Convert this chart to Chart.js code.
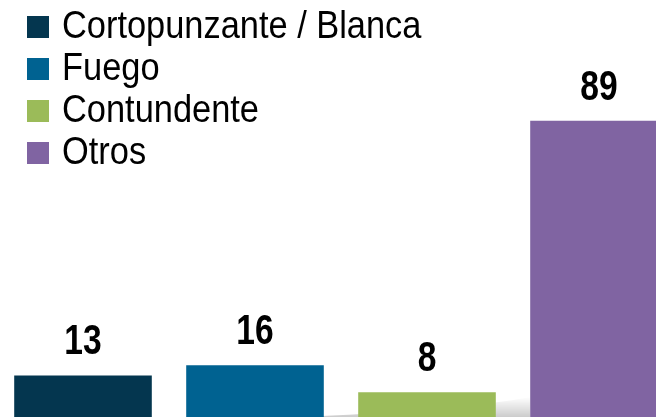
<!DOCTYPE html>
<html>
<head>
<meta charset="utf-8">
<script src="https://cdn.jsdelivr.net/npm/chart.js@4/dist/chart.umd.min.js"></script>
<style>
  html, body { margin: 0; padding: 0; background: #fff; overflow: hidden; }
  #wrap { position: absolute; left: -3px; top: 0; width: 688px; height: 419px; }
</style>
</head>
<body>
<div id="wrap"><canvas id="myChart"></canvas></div>
<script>
// Tipo de arma
const categories = ["Cortopunzante / Blanca", "Fuego", "Contundente", "Otros"];
const values = [13, 16, 8, 89];
const barColors = [
  "#04364f", // Cortopunzante / Blanca
  "#006291", // Fuego
  "#9bbb59", // Contundente
  "#8064a2"  // Otros
];

// no narrow font installed, so squeeze a normal one
function narrowText(ctx, text, x, y, sx) {
  ctx.save();
  ctx.translate(x, y);
  ctx.scale(sx, 1);
  ctx.fillText(text, 0, 0);
  ctx.restore();
}

// grey "floor" shadow behind the bars
const floorShadow = {
  id: "floorShadow",
  beforeDatasetsDraw(chart) {
    const ctx = chart.ctx;
    const meta = chart.getDatasetMeta(0);
    const b2 = meta.data[1], b4 = meta.data[3];
    const bottom = chart.chartArea.bottom;
    ctx.save();
    const g = ctx.createLinearGradient(0, bottom - 22, 0, bottom);
    g.addColorStop(0, "rgba(0,0,0,0)");
    g.addColorStop(1, "rgba(0,0,0,0.22)");
    ctx.fillStyle = g;
    ctx.beginPath();
    ctx.moveTo(b2.x, bottom);
    ctx.quadraticCurveTo(b4.x - 140, bottom - 8, b4.x - 69, bottom - 22);
    ctx.lineTo(b4.x - 69, bottom);
    ctx.closePath();
    ctx.fill();
    ctx.restore();
  }
};

// numbers above the bars
const valueLabels = {
  id: "valueLabels",
  afterDatasetsDraw(chart) {
    const ctx = chart.ctx;
    ctx.save();
    ctx.font = "bold 42px 'Liberation Sans', Arial, sans-serif";
    ctx.fillStyle = "#000";
    ctx.textAlign = "center";
    ctx.textBaseline = "alphabetic";
    chart.getDatasetMeta(0).data.forEach((bar, i) => {
      narrowText(ctx, String(values[i]), bar.x, bar.y - 21, 0.8);
    });
    ctx.restore();
  }
};

// vertical legend at top-left
const sideLegend = {
  id: "sideLegend",
  afterDraw(chart) {
    const ctx = chart.ctx;
    ctx.save();
    ctx.font = "38px 'Liberation Sans', Arial, sans-serif";
    ctx.textAlign = "left";
    ctx.textBaseline = "alphabetic";
    categories.forEach((name, i) => {
      const base = 38 + i * 42;
      ctx.fillStyle = barColors[i];
      ctx.fillRect(30, base - 22, 22, 22);
      ctx.fillStyle = "#000";
      narrowText(ctx, name, 65, base, 0.905);
    });
    ctx.restore();
  }
};

new Chart("myChart", {
  type: "bar",
  data: {
    labels: categories,
    datasets: [{
      data: values,
      backgroundColor: barColors,
      borderWidth: 0,
      categoryPercentage: 1.0,
      barPercentage: 0.8
    }]
  },
  options: {
    responsive: true,
    maintainAspectRatio: false,
    animation: false,
    layout: { padding: 0 },
    plugins: {
      legend: { display: false },
      tooltip: { enabled: false }
    },
    scales: {
      x: { display: false },
      y: { display: false, min: 0, max: 125 }
    }
  },
  plugins: [floorShadow, valueLabels, sideLegend]
});
</script>
</body>
</html>
